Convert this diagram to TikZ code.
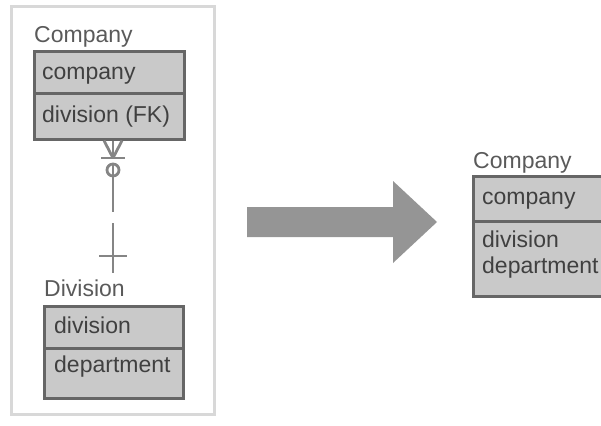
\documentclass[tikz,border=0pt]{standalone}
\usepackage{fontspec}
\setmainfont{Liberation Sans}
\begin{document}
\begin{tikzpicture}[x=1pt,y=-1pt,
  rowbox/.style={draw=boxline, fill=boxfill, line width=2.6pt, inner sep=0pt, anchor=north west},
  attr/.style={text=txt, font=\fontsize{23}{27}\selectfont, inner sep=0pt, anchor=base west},
  title/.style={text=ttl, font=\fontsize{23}{27}\selectfont, inner sep=0pt, anchor=base west},
  rel/.style={draw=relline, line width=2.8pt},
]
\definecolor{boxfill}{HTML}{C9C9C9}
\definecolor{boxline}{HTML}{666666}
\definecolor{txt}{HTML}{404040}
\definecolor{ttl}{HTML}{5A5A5A}
\definecolor{relline}{HTML}{858585}
\definecolor{framec}{HTML}{D8D8D8}
\definecolor{arrowc}{HTML}{959595}

\useasboundingbox (0,0) rectangle (601,425);
\clip (0,0) rectangle (601,425);

% panel around the two-entity model
\node[draw=framec, line width=3pt, minimum width=203pt, minimum height=408pt, inner sep=0pt, anchor=north west] (panel) at (10,5) {};

% entity Company (before)
\node[title] (lcomp) at (34,43) {Company};
\node[rowbox, minimum width=150pt, minimum height=42pt] (lc1) at (33,50) {};
\node[rowbox, minimum width=150pt, minimum height=46pt] (lc2) at (33,92) {};
\node[attr] (lc1t) at (42,80) {company};
\node[attr] (lc2t) at (42,122) {division (FK)};

% entity Division
\node[title] (ldiv) at (44,296) {Division};
\node[rowbox, minimum width=139pt, minimum height=42pt] (ld1) at (43,305) {};
\node[rowbox, minimum width=139pt, minimum height=50pt] (ld2) at (43,347) {};
\node[attr] (ld1t) at (54,333) {division};
\node[attr] (ld2t) at (54,372) {department};

% relationship: zero-or-many at Company, exactly one at Division
\coordinate (rtop) at (lc2.south -| 113,0);
\coordinate (rbot) at (113,273);
\coordinate (rfoot) at (113,158);
\coordinate (rring) at (113,170);
\draw[rel] ([xshift=-9pt]rtop) -- (rfoot);
\draw[rel] (rtop) -- (rfoot);
\draw[rel] ([xshift=9pt]rtop) -- (rfoot);
\draw[rel] ([xshift=-12pt]rfoot) -- ([xshift=12pt]rfoot);
\draw[rel] (rring) circle (6pt);
\draw[rel] ([yshift=6pt]rring) -- (113,212);
\draw[rel] (113,223) -- (rbot);
\draw[rel] (99,256) -- (127,256);

% transformation arrow
\fill[arrowc] (247,207) -- (393,207) -- (393,181) -- (437,222) -- (393,263) -- (393,237) -- (247,237) -- cycle;

% entity Company (after)
\node[title] (rcomp) at (473,168) {Company};
\node[rowbox, minimum width=140pt, minimum height=45pt] (rc1) at (472,175) {};
\node[rowbox, minimum width=140pt, minimum height=75pt] (rc2) at (472,220) {};
\node[attr] (rc1t) at (482,204) {company};
\node[attr] (rc2t) at (482,247) {division};
\node[attr] (rc3t) at (482,273) {department};
\end{tikzpicture}
\end{document}
